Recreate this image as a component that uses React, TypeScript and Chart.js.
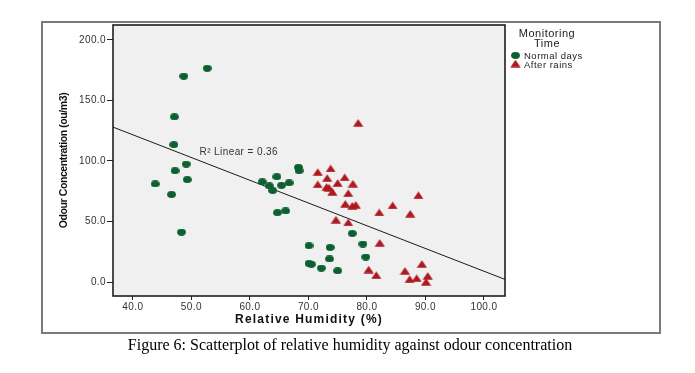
import { useEffect, useRef } from "react";
import { Chart, registerables } from "chart.js";

Chart.register(...registerables);

// ---- data ----
const normalX = [52.7, 48.7, 47.1, 47.0, 49.1, 47.2, 49.3, 43.8, 46.6, 48.3, 68.3, 68.4, 62.1, 64.6, 63.3, 63.9, 65.4, 66.7, 64.7, 66.1, 77.5, 79.3, 79.8, 70.1, 73.7, 73.6, 70.1, 70.5, 72.2, 75.0];
const normalY = [176.5, 170.0, 136.4, 113.5, 97.4, 91.9, 84.6, 81.0, 72.3, 41.2, 94.7, 91.9, 82.7, 87.0, 79.4, 75.6, 79.9, 81.9, 57.3, 58.7, 40.1, 31.4, 20.7, 30.0, 28.6, 19.1, 15.3, 14.7, 11.5, 9.3];
const rainX = [78.5, 73.8, 71.6, 73.2, 76.2, 75.0, 77.6, 71.6, 73.1, 73.5, 74.1, 76.8, 88.8, 76.3, 77.5, 78.1, 84.4, 82.1, 87.4, 74.7, 76.8, 82.2, 89.4, 86.5, 80.3, 81.6, 90.4, 87.3, 88.5, 90.1];
const rainY = [131.5, 93.8, 90.8, 85.9, 86.5, 81.8, 81.3, 80.7, 78.5, 78.0, 74.5, 73.4, 71.7, 64.6, 63.0, 63.8, 63.3, 57.5, 56.4, 51.5, 49.3, 32.4, 15.0, 9.2, 10.3, 5.7, 5.1, 2.4, 3.2, 0.2];
const fitX = [36.6, 103.6];
const fitY = [128.0, 2.2];
const xTicks = [40, 50, 60, 70, 80, 90, 100];
const yTicks = [0, 50, 100, 150, 200];
const fitLabel = "R\u00B2 Linear = 0.36";
const fitLabelX = 51.4;
const fitLabelY = 107;
const legendTitle = ["Monitoring", "Time"];
const seriesNames = ["Normal days", "After rains"];
const xTitle = "Relative Humidity (%)";
const yTitle = "Odour Concentration (ou/m3)";
const caption = "Figure 6: Scatterplot of relative humidity against odour concentration";

const GREEN = "#0c6030";
const RED = "#ae1820";
const FONT = "'Liberation Sans', Arial, sans-serif";

function makeEllipse(color: string) {
  const c = document.createElement("canvas");
  c.width = 9;
  c.height = 7;
  const ctx = c.getContext("2d")!;
  ctx.fillStyle = color;
  ctx.beginPath();
  ctx.ellipse(4.5, 3.5, 4.4, 3.4, 0, 0, Math.PI * 2);
  ctx.fill();
  return c;
}

function makeTriangle(color: string) {
  const c = document.createElement("canvas");
  c.width = 11;
  c.height = 8;
  const ctx = c.getContext("2d")!;
  ctx.fillStyle = color;
  ctx.beginPath();
  ctx.moveTo(5.5, 0.3);
  ctx.lineTo(10.6, 7.7);
  ctx.lineTo(0.4, 7.7);
  ctx.closePath();
  ctx.fill();
  return c;
}

export default function App() {
  const ref = useRef<HTMLCanvasElement | null>(null);

  useEffect(() => {
    if (!ref.current) return;
    const dot = makeEllipse(GREEN);
    const tri = makeTriangle(RED);

    const framePlugin = {
      id: "frame",
      beforeDraw(chart: any) {
        (chart.ctx as any).letterSpacing = "0.4px";
      },
      beforeDatasetsDraw(chart: any) {
        const { ctx, chartArea: a } = chart;
        ctx.save();
        ctx.fillStyle = "#f0f0f0";
        ctx.fillRect(a.left, a.top, a.right - a.left, a.bottom - a.top);
        ctx.restore();
      },
      afterDraw(chart: any) {
        const { ctx, chartArea: a, scales } = chart;
        ctx.save();
        ctx.strokeStyle = "#1e1e1e";
        ctx.lineWidth = 1.6;
        ctx.strokeRect(a.left, a.top, a.right - a.left, a.bottom - a.top);

        // fit label
        ctx.fillStyle = "#333";
        ctx.font = `10px ${FONT}`;
        ctx.textBaseline = "middle";
        ctx.textAlign = "left";
        ctx.fillText(fitLabel, scales.x.getPixelForValue(fitLabelX), scales.y.getPixelForValue(fitLabelY));

        // axis titles
        ctx.fillStyle = "#111";
        ctx.textAlign = "center";
        ctx.font = `bold 12px ${FONT}`;
        (ctx as any).letterSpacing = "1.2px";
        ctx.fillText(xTitle, (a.left + a.right) / 2, 320);
        ctx.save();
        ctx.translate(64, (a.top + a.bottom) / 2);
        ctx.rotate(-Math.PI / 2);
        ctx.font = `bold 10.5px ${FONT}`;
        (ctx as any).letterSpacing = "-0.4px";
        ctx.fillText(yTitle, 0, 0);
        ctx.restore();

        // legend
        (ctx as any).letterSpacing = "0.5px";
        ctx.fillStyle = "#222";
        ctx.textAlign = "center";
        ctx.font = `11px ${FONT}`;
        ctx.fillText(legendTitle[0], 547, 34);
        ctx.fillText(legendTitle[1], 547, 44);
        ctx.textAlign = "left";
        ctx.font = `9.5px ${FONT}`;
        ctx.drawImage(dot, 515.5 - 4.5, 55.5 - 3.5);
        ctx.fillText(seriesNames[0], 524, 56);
        ctx.drawImage(tri, 515.5 - 5.5, 63.5 - 4);
        ctx.fillText(seriesNames[1], 524, 65);
        ctx.restore();
        (ctx as any).letterSpacing = "0px";
      },
    };

    const chart = new Chart(ref.current, {
      type: "scatter",
      data: {
        datasets: [
          {
            label: seriesNames[0],
            data: normalX.map((x, i) => ({ x, y: normalY[i] })),
            pointStyle: dot as any,
            pointRadius: 4,
            backgroundColor: GREEN,
            borderColor: GREEN,
          },
          {
            label: seriesNames[1],
            data: rainX.map((x, i) => ({ x, y: rainY[i] })),
            pointStyle: tri as any,
            pointRadius: 5,
            backgroundColor: RED,
            borderColor: RED,
          },
          {
            type: "line",
            label: "fit",
            data: fitX.map((x, i) => ({ x, y: fitY[i] })),
            borderColor: "#1a1a1a",
            borderWidth: 1,
            pointRadius: 0,
            fill: false,
          } as any,
        ],
      },
      options: {
        responsive: false,
        animation: false,
        layout: { padding: { left: 41, right: 190, top: 25, bottom: 4 } },
        plugins: { legend: { display: false }, tooltip: { enabled: false } },
        scales: {
          x: {
            type: "linear",
            min: 36.6,
            max: 103.6,
            afterBuildTicks: (s: any) => {
              s.ticks = xTicks.map((v) => ({ value: v }));
            },
            afterFit: (s: any) => {
              s.height = 40;
            },
            grid: { drawOnChartArea: false, drawTicks: true, tickLength: 4, color: "#222" },
            border: { display: false },
            ticks: {
              padding: 1,
              color: "#333",
              font: { family: FONT, size: 10 },
              maxRotation: 0,
              callback: (v: any) => Number(v).toFixed(1),
            },
            title: { display: false },
          },
          y: {
            type: "linear",
            min: -11.5,
            max: 212.3,
            afterBuildTicks: (s: any) => {
              s.ticks = yTicks.map((v) => ({ value: v }));
            },
            afterFit: (s: any) => {
              s.width = 72;
            },
            grid: { drawOnChartArea: false, drawTicks: true, tickLength: 6, color: "#222" },
            border: { display: false },
            ticks: {
              padding: 1,
              color: "#333",
              font: { family: FONT, size: 10 },
              callback: (v: any) => Number(v).toFixed(1),
            },
            title: { display: false },
          },
        },
      },
      plugins: [framePlugin],
    });
    return () => chart.destroy();
  }, []);

  return (
    <div style={{ position: "absolute", left: 0, top: 0, width: 695, height: 373, background: "#fff" }}>
      <div
        style={{
          position: "absolute",
          left: 41,
          top: 21,
          width: 620,
          height: 313,
          boxSizing: "border-box",
          border: "2px solid #7a7a7a",
        }}
      />
      <canvas
        ref={ref}
        width={695}
        height={340}
        style={{ position: "absolute", left: 0, top: 0, width: 695, height: 340 }}
      />
      <div
        style={{
          position: "absolute",
          left: 0,
          width: 700,
          top: 335,
          textAlign: "center",
          fontFamily: "'Liberation Serif', 'Times New Roman', serif",
          fontSize: 16,
          color: "#000",
          whiteSpace: "nowrap",
          lineHeight: "20px",
        }}
      >
        {caption}
      </div>
    </div>
  );
}
